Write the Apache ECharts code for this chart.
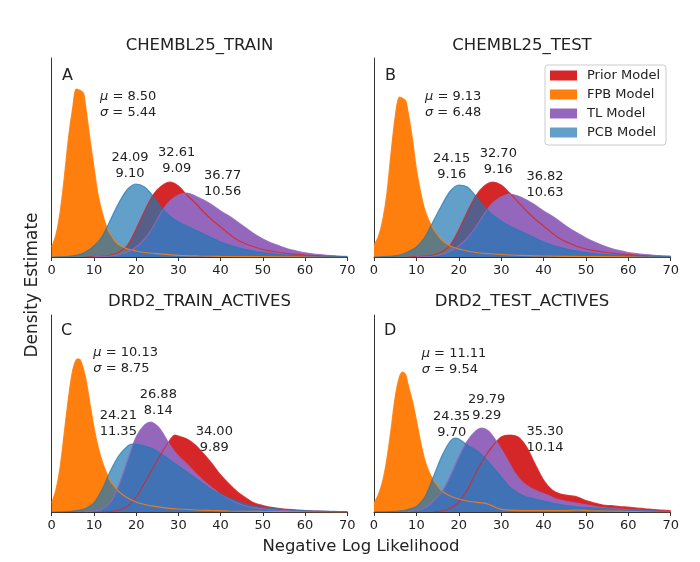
<!DOCTYPE html>
<html><head><meta charset="utf-8">
<script src="https://cdn.jsdelivr.net/npm/echarts@6/dist/echarts.min.js"></script>
<style>html,body{margin:0;padding:0;background:#fff}#c{width:700px;height:562px}</style>
</head><body><div id="c"></div>
<script>
// ---- data (x = negative log likelihood, y = density estimate, relative units) ----
const panelTitles = ['CHEMBL25_TRAIN', 'CHEMBL25_TEST', 'DRD2_TRAIN_ACTIVES', 'DRD2_TEST_ACTIVES'];
const panelLetters = ['A', 'B', 'C', 'D'];
const modelNames = ['Prior Model', 'FPB Model', 'TL Model', 'PCB Model'];
const xTickMin = 0, xTickMax = 70, xTickStep = 10;

// mean / sd annotations per panel
const fpbStats   = [['8.50', '5.44'], ['9.13', '6.48'], ['10.13', '8.75'], ['11.11', '9.54']];
const pcbStats   = [['24.09', '9.10'], ['24.15', '9.16'], ['24.21', '11.35'], ['24.35', '9.70']];
const priorStats = [['32.61', '9.09'], ['32.70', '9.16'], ['34.00', '9.89'], ['35.30', '10.14']];
const tlStats    = [['36.77', '10.56'], ['36.82', '10.63'], ['26.88', '8.14'], ['29.79', '9.29']];

// Panel A: CHEMBL25_TRAIN
const priorA = [[8,0],[10,0.2],[12,0.7],[14,2],[16,5],[18,12],[20,28],[22,46],[24,62],[26,71],[28,75],[30,71],[32,62],[34,54],[36,45],[38,37],[40,30],[42,23],[44,17],[46,13],[48,10],[50,7.5],[52,6],[54,4.5],[56,3.4],[58,2.6],[60,2],[62,1.5],[64,1.1],[66,0.8],[68,0.5],[70,0.4]];
const fpbA = [[0,10],[1,22],[2,45],[3,80],[4,120],[5,150],[5.8,168],[7,166],[7.6,163],[8,152],[9,120],[10,90],[11,62],[12,44],[13,30],[14,22],[15,16],[16,12],[18,8],[20,6],[22,4.5],[25,3.3],[30,1.7],[35,1],[40,0.6],[50,0.3],[60,0.1],[70,0]];
const tlA = [[10,0.2],[12,0.5],[14,1],[16,2.5],[18,5],[20,10],[22,18],[24,30],[26,45],[28,56],[30,62],[32,64],[34,61],[36,57],[38,52],[40,46],[42,41],[44,35],[46,29],[48,23],[50,18],[52,14],[54,11],[56,8],[58,6],[60,4.2],[62,3],[64,2.2],[66,1.5],[68,1],[70,0.7]];
const pcbA = [[0,0],[2,0.2],[4,0.6],[6,1.8],[8,5],[10,11],[12,21],[14,38],[16,55],[18,68],[20,73],[22,70],[24,61],[26,49],[28,41],[30,35],[32,31],[34,27],[36,23],[38,19],[40,15],[42,12],[44,9.5],[46,7.5],[48,5.8],[50,4.3],[52,3.3],[54,2.5],[56,2],[58,1.6],[60,1.3],[62,1],[64,0.8],[66,0.6],[68,0.5],[70,0.4]];

// Panel B: CHEMBL25_TEST
const priorB = [[8,0],[10,0.3],[12,0.8],[14,2],[16,5],[18,12],[20,27],[22,45],[24,61],[26,71],[28,75],[30,72],[32,64],[34,55],[36,46],[38,38],[40,31],[42,24],[44,18],[46,14],[48,10.5],[50,8],[52,6.3],[54,5],[56,3.8],[58,3],[60,2.3],[62,1.7],[64,1.3],[66,1],[68,0.7],[70,0.5]];
const fpbB = [[0,12],[1,20],[2,36],[3,62],[4,103],[5,140],[6,160],[7,158],[7.5,156],[8,146],[9,120],[10,88],[11,65],[12,47],[13,36],[14,28],[15,22],[16,17],[18,11],[20,8],[22,6],[25,4],[30,2.5],[35,1.6],[40,1],[50,0.5],[60,0.2],[70,0.1]];
const tlB = [[10,0.2],[12,0.5],[14,1],[16,2.5],[18,6],[20,11],[22,19],[24,30],[26,43],[28,54],[30,60],[32,63],[34,61],[36,57],[38,52],[40,46],[42,41],[44,35],[46,29],[48,24],[50,19],[52,15],[54,11.5],[56,8.5],[58,6.3],[60,4.5],[62,3.3],[64,2.4],[66,1.7],[68,1.2],[70,0.8]];
const pcbB = [[0,0],[2,0.3],[4,0.8],[6,2],[8,5],[10,10],[12,20],[14,36],[16,52],[18,66],[20,72],[22,70],[24,61],[26,50],[28,42],[30,36],[32,31],[34,27],[36,23],[38,19],[40,15],[42,12],[44,9.5],[46,7.5],[48,6],[50,4.5],[52,3.5],[54,2.7],[56,2.1],[58,1.7],[60,1.4],[62,1.1],[64,0.9],[66,0.7],[68,0.5],[70,0.4]];

// Panel C: DRD2_TRAIN_ACTIVES
const priorC = [[12,0.2],[14,0.5],[16,2],[18,6],[20,15],[22,29],[24,44],[26,59],[28,72],[29.2,77],[30,76],[32,73],[34,67],[36,58],[38,48],[40,37],[42,28],[44,20],[46,14],[48,9],[50,6.5],[52,4.7],[54,3.5],[56,2.6],[58,1.9],[60,1.4],[62,1],[64,0.7],[66,0.5],[68,0.3],[70,0.2]];
const fpbC = [[0,9],[1,22],[2,45],[3,80],[4,115],[5,142],[6,153],[6.5,153],[7,150],[8,135],[9,110],[10,85],[11,65],[12,50],[13,39],[14,30],[15,25],[16,20],[18,14],[20,10],[22,7.5],[24,5.8],[26,4.6],[28,3.7],[30,3],[34,2],[38,1.5],[42,1],[50,0.6],[60,0.3],[70,0.1]];
const tlC = [[8,0.3],[10,1],[12,3],[14,10],[16,28],[18,52],[20,75],[22,87],[23.5,90],[25,86],[26,81],[28,67],[30,56],[32,48],[34,39],[36,31],[38,24],[40,18],[42,13],[44,9],[46,6],[48,4.3],[50,3.2],[55,1.6],[60,0.9],[65,0.5],[70,0.3]];
const pcbC = [[0,0],[4,0.5],[6,1.5],[8,3.5],[10,9],[12,23],[14,42],[16,57],[18,66],[19,68],[20,68],[22,66],[24,63],[26,58],[28,52],[30,46],[32,40],[34,34],[36,28],[38,22],[40,18],[42,14],[44,11],[46,8],[48,6],[50,4.8],[52,3.8],[54,3],[56,2.3],[58,1.8],[60,1.4],[62,1],[64,0.8],[66,0.6],[68,0.5],[70,0.4]];

// Panel D: DRD2_TEST_ACTIVES
const priorD = [[14,0.3],[16,1],[18,3.5],[20,10],[22,22],[24,39],[26,54],[28,66],[30,75],[32,77],[34,75],[36,65],[38,48],[40,32],[42,22],[44,18],[46,16.5],[48,15],[50,11.5],[52,9],[54,7],[56,6.3],[58,5.5],[60,4.8],[62,4],[64,3.2],[66,2.5],[68,1.8],[70,1.3]];
const fpbD = [[0,9],[1,17],[2,30],[3,52],[4,82],[5,115],[6,135],[6.8,140],[7.5,137],[8,128],[9,112],[10,92],[11,70],[12,52],[13,40],[14,32],[15,26],[16,21],[18,16],[20,13],[22,11],[24,9.8],[26,8.8],[27,7.8],[28,6],[29,4],[30,2.7],[32,1.8],[35,1.4],[40,1.3],[45,1.4],[48,2],[51,1.4],[55,1],[60,0.6],[65,0.4],[70,0.2]];
const tlD = [[8,0.5],[10,1.5],[12,4],[14,11],[16,20],[18,36],[20,55],[22,71],[24,81],[25.4,84],[27,81],[29,70],[31,56],[33,41],[35,30],[37,24],[39,20],[41,17],[43,13],[45,11],[47,9.5],[49,8],[51,6.5],[53,5],[55,4],[57,3.4],[60,2.5],[63,1.7],[66,1],[70,0.5]];
const pcbD = [[0,0],[4,0.4],[6,1],[8,2.5],[10,5.5],[12,15],[14,35],[16,56],[18,71],[19.2,74],[20,73],[22,67],[24,62],[26,55],[28,45],[30,35],[32,25],[34,19],[36,15],[38,13],[40,11],[42,9],[44,7.5],[46,6],[48,5],[50,4.5],[52,4],[54,3.5],[56,3],[58,2.5],[60,2],[62,1.6],[64,1.2],[66,0.9],[68,0.6],[70,0.4]];

const panelData = [
  [priorA, fpbA, tlA, pcbA],
  [priorB, fpbB, tlB, pcbB],
  [priorC, fpbC, tlC, pcbC],
  [priorD, fpbD, tlD, pcbD]
];

// ---- styling / layout ----
const FONT = 'DejaVu Sans';
const fillColors = ['#d62728', '#ff7f0e', '#9467bd', 'rgba(31,119,180,0.7)'];
const lineColors = ['rgba(214,39,40,0.85)', 'rgba(255,127,14,0.85)', 'rgba(148,103,189,0.85)', 'rgba(31,119,180,0.7)'];
const grids = [
  {left: 51.7, top: 58, width: 295.6, height: 199},
  {left: 374, top: 58, width: 296.7, height: 199},
  {left: 51.7, top: 315, width: 295.6, height: 197},
  {left: 374, top: 315, width: 296.7, height: 197}
];
const yMaxes = [199, 199, 197, 197];

const xAxes = grids.map((g, i) => ({
  type: 'value', gridIndex: i, min: xTickMin, max: xTickMax, interval: xTickStep,
  axisLine: {show: true, onZero: false, lineStyle: {color: '#333', width: 1}},
  axisTick: {show: true, length: 4, lineStyle: {color: '#333'}},
  axisLabel: {fontFamily: FONT, fontSize: 13, color: '#222', margin: 7},
  splitLine: {show: false}
}));
const yAxes = grids.map((g, i) => ({
  type: 'value', gridIndex: i, min: 0, max: yMaxes[i],
  axisLine: {show: true, lineStyle: {color: '#333', width: 1}},
  axisTick: {show: false}, axisLabel: {show: false}, splitLine: {show: false}
}));

const series = [];
panelData.forEach((curves, p) => {
  curves.forEach((d, m) => {
    series.push({
      type: 'line', name: modelNames[m], xAxisIndex: p, yAxisIndex: p, data: d,
      smooth: 0.3, symbol: 'none', silent: true,
      lineStyle: {width: 0, opacity: 0},
      itemStyle: {color: fillColors[m]},
      areaStyle: {color: fillColors[m], opacity: 1, origin: 'start'},
      z: 2
    });
  });
  curves.forEach((d, m) => {
    series.push({
      type: 'line', name: modelNames[m], xAxisIndex: p, yAxisIndex: p, data: d,
      smooth: 0.3, symbol: 'none', silent: true,
      lineStyle: {width: 1.2, color: lineColors[m]},
      itemStyle: {color: fillColors[m]},
      z: 3
    });
  });
});

// ---- texts ----
const graphics = [];
const titlePos = [[199.5, 46], [522, 46], [199.5, 302], [522, 302]];
const letterPos = [[62, 76], [385, 76], [61, 331], [384, 331]];
panelTitles.forEach((t, i) => {
  graphics.push({type: 'text', x: titlePos[i][0], y: titlePos[i][1],
    style: {text: t, font: '16.5px "DejaVu Sans"', fill: '#222', textAlign: 'center', textVerticalAlign: 'middle'}});
  graphics.push({type: 'text', x: letterPos[i][0], y: letterPos[i][1],
    style: {text: panelLetters[i], font: '16px "DejaVu Sans"', fill: '#222', textAlign: 'left', textVerticalAlign: 'middle'}});
});
// annotation anchor positions: [fpb(left,top), pcb(center,top), prior(center,top), tl(center,top)]
const annPos = [
  [[100, 89], [130, 150], [176.7, 145], [222.7, 168]],
  [[425, 89], [451.7, 151], [498.3, 146], [545, 169]],
  [[93.3, 345], [118.3, 408], [214.3, 424], [158.3, 387]],
  [[421.7, 346], [451.7, 409], [545, 424], [486.7, 392]]
];
annPos.forEach((pos, i) => {
  graphics.push({type: 'text', x: pos[0][0], y: pos[0][1],
    style: {text: '{i|μ} = ' + fpbStats[i][0] + '\n{i|σ} = ' + fpbStats[i][1],
      rich: {i: {fontStyle: 'italic', fontFamily: FONT, fontSize: 13, fill: '#222'}},
      font: '13px "DejaVu Sans"', fill: '#222', lineHeight: 16, textAlign: 'left', textVerticalAlign: 'top'}});
  [pcbStats, priorStats, tlStats].forEach((st, k) => {
    graphics.push({type: 'text', x: pos[k + 1][0], y: pos[k + 1][1],
      style: {text: st[i][0] + '\n' + st[i][1], font: '13px "DejaVu Sans"', fill: '#222',
        lineHeight: 16, textAlign: 'center', textVerticalAlign: 'top'}});
  });
});
graphics.push({type: 'text', x: 33, y: 285, rotation: Math.PI / 2,
  style: {text: 'Density Estimate', font: '17px "DejaVu Sans"', fill: '#222', textAlign: 'center', textVerticalAlign: 'middle'}});
graphics.push({type: 'text', x: 361, y: 547,
  style: {text: 'Negative Log Likelihood', font: '16.5px "DejaVu Sans"', fill: '#222', textAlign: 'center', textVerticalAlign: 'middle'}});

const chart = echarts.init(document.getElementById('c'), null, {renderer: 'canvas'});
chart.setOption({
  animation: false,
  backgroundColor: '#fff',
  textStyle: {fontFamily: FONT},
  grid: grids.map(g => Object.assign({containLabel: false, outerBoundsMode: 'none'}, g)),
  xAxis: xAxes,
  yAxis: yAxes,
  legend: {
    orient: 'vertical', left: 545, top: 65, icon: 'rect',
    itemWidth: 27, itemHeight: 10, itemGap: 6,
    padding: [4, 6, 6, 5],
    borderColor: '#ccc', borderWidth: 1, borderRadius: 3, backgroundColor: 'rgba(255,255,255,0.8)',
    selectedMode: false,
    textStyle: {fontFamily: FONT, fontSize: 13, color: '#222', padding: [0, 0, 0, 5]},
    data: modelNames.map((n, m) => ({name: n, icon: 'rect', itemStyle: {color: fillColors[m], borderWidth: 0}}))
  },
  graphic: graphics,
  series: series
});
</script>
</body></html>
